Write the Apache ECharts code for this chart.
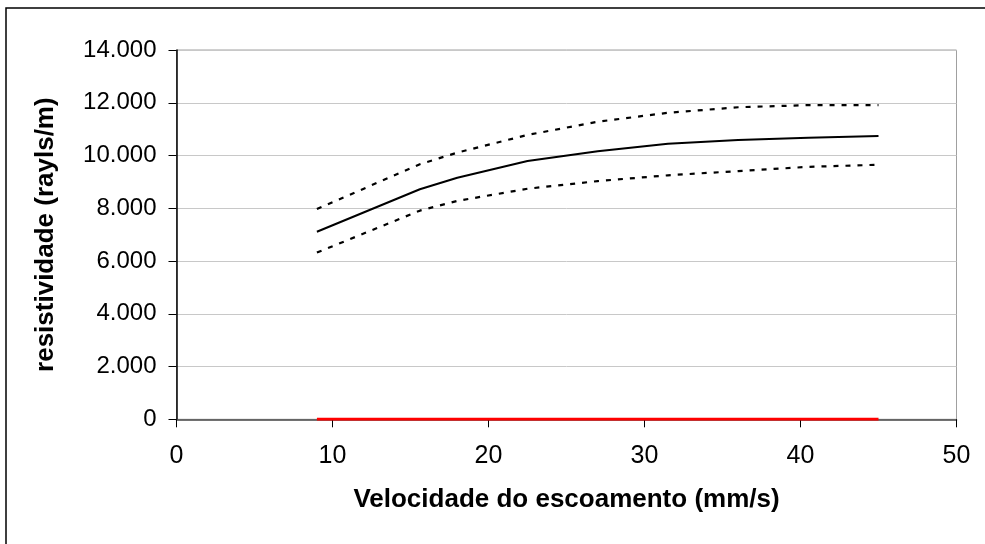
<!DOCTYPE html>
<html><head><meta charset="utf-8">
<script src="https://cdn.jsdelivr.net/npm/echarts@6/dist/echarts.min.js"></script>
<style>html,body{margin:0;padding:0;background:#fff}#c{width:985px;height:544px}</style>
</head><body><div id="c"></div>
<script>
var velocidade = [9, 15.6, 18, 22.5, 27, 31.5, 36, 40.5, 45];
var media      = [7110, 8720, 9160, 9790, 10160, 10450, 10590, 10670, 10740];
var superior   = [7970, 9670, 10110, 10780, 11280, 11620, 11830, 11910, 11910];
var inferior   = [6320, 7910, 8280, 8740, 9030, 9250, 9410, 9570, 9650];
var base       = [0, 0, 0, 0, 0, 0, 0, 0, 0];

function pairs(ys){ return velocidade.map(function(x,i){ return [x, ys[i]]; }); }
function fmt(v){ return String(v).replace(/\B(?=(\d{3})+(?!\d))/g, '.'); }

var chart = echarts.init(document.getElementById('c'));
var font = 'Liberation Sans, Arial, sans-serif';
chart.setOption({
  animation: false,
  backgroundColor: '#fff',
  grid: {left: 176.5, top: 50, width: 780, height: 369.3, show: true, borderColor: '#a0a0a0', borderWidth: 1, backgroundColor: 'transparent'},
  graphic: [{type: 'rect', shape: {x: 6, y: 8, width: 1000, height: 560}, style: {fill: 'none', stroke: '#000', lineWidth: 1.5}, silent: true}],
  xAxis: {
    type: 'value', min: 0, max: 50, interval: 10,
    name: 'Velocidade do escoamento (mm/s)', nameLocation: 'middle', nameGap: 68,
    nameTextStyle: {fontFamily: font, fontSize: 26, fontWeight: 'bold', color: '#000'},
    axisLine: {show: true, onZero: false, lineStyle: {color: '#444', width: 1.5}},
    axisTick: {show: true, inside: false, length: 8, lineStyle: {color: '#000'}},
    axisLabel: {margin: 24, fontFamily: font, fontSize: 25, color: '#000'},
    splitLine: {show: false}
  },
  yAxis: {
    type: 'value', min: 0, max: 14000, interval: 2000,
    name: 'resistividade (rayls/m)', nameLocation: 'middle', nameGap: 118,
    nameTextStyle: {fontFamily: font, fontSize: 26, fontWeight: 'bold', color: '#000'},
    axisLine: {show: true, lineStyle: {color: '#000', width: 1.5}},
    axisTick: {show: true, inside: false, length: 8, lineStyle: {color: '#000'}},
    axisLabel: {margin: 20, fontFamily: font, fontSize: 24, color: '#000', formatter: fmt},
    splitLine: {show: true, lineStyle: {color: '#c8c8c8', width: 1}}
  },
  series: [
    {type: 'line', data: pairs(base), showSymbol: false, lineStyle: {color: '#ff0000', width: 3}, z: 5},
    {type: 'line', data: pairs(superior), showSymbol: false, lineStyle: {color: '#000', width: 2.2, type: [5, 7]}},
    {type: 'line', data: pairs(media), showSymbol: false, lineStyle: {color: '#000', width: 2}},
    {type: 'line', data: pairs(inferior), showSymbol: false, lineStyle: {color: '#000', width: 2.2, type: [5, 7]}}
  ]
});
</script></body></html>
